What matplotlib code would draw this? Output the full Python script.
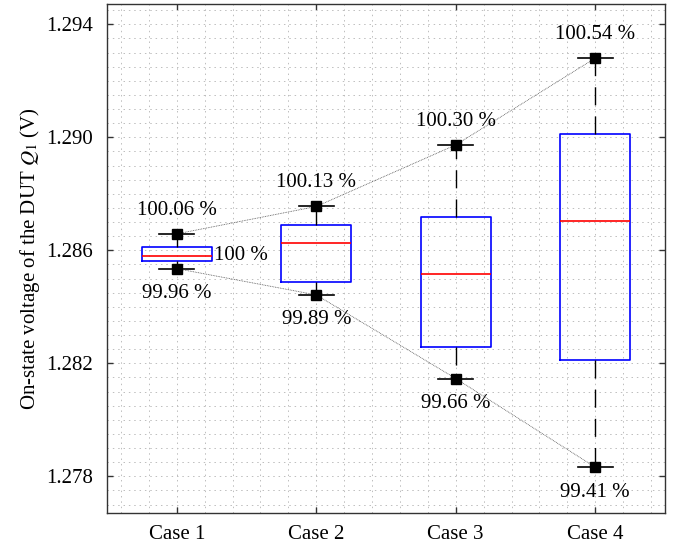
import matplotlib
matplotlib.use("Agg")
from matplotlib import pyplot as plt
from matplotlib.ticker import MultipleLocator

plt.rcParams['font.family'] = ['Liberation Serif', 'DejaVu Serif']
plt.rcParams['mathtext.fontset'] = 'stix'

cases = ['Case 1', 'Case 2', 'Case 3', 'Case 4']
v_max = [1.28658, 1.28755, 1.28973, 1.29280]
v_q3 = [1.28612, 1.28688, 1.28718, 1.29013]
v_med = [1.28580, 1.28625, 1.28517, 1.28704]
v_q1 = [1.28563, 1.28488, 1.28259, 1.28210]
v_min = [1.28535, 1.28442, 1.28146, 1.27832]
max_labels = ['100.06 %', '100.13 %', '100.30 %', '100.54 %']
min_labels = ['99.96 %', '99.89 %', '99.66 %', '99.41 %']
ref_label = '100 %'

pos = [1, 2, 3, 4]
stats = []
for i in range(4):
    stats.append(dict(whislo=v_min[i], q1=v_q1[i], med=v_med[i], q3=v_q3[i],
                      whishi=v_max[i], fliers=[], label=cases[i]))

fig = plt.figure(figsize=(6.83, 5.48), dpi=100)
ax = fig.add_axes([0.1567, 0.0639, 0.9736 - 0.1567, 0.9918 - 0.0639])

ax.bxp(stats, positions=pos, widths=0.5, showfliers=False,
       boxprops=dict(color='#0000ff', linewidth=1.2),
       medianprops=dict(color='#ff0000', linewidth=1.2),
       whiskerprops=dict(color='black', linewidth=1.0, linestyle=(0, (13, 8))),
       capprops=dict(color='black', linewidth=1.2), capwidths=0.25)

# dotted trend lines through max / min
ax.plot(pos, v_max, linestyle=(0, (1, 1)), color='#555555', linewidth=0.6)
ax.plot(pos, v_min, linestyle=(0, (1, 1)), color='#555555', linewidth=0.6)
ax.plot(pos, v_max, 's', color='black', markersize=6.5, linestyle='none')
ax.plot(pos, v_min, 's', color='black', markersize=6.5, linestyle='none')

for i in range(4):
    ax.annotate(max_labels[i], (pos[i], v_max[i]), xytext=(0, 17),
                textcoords='offset points', ha='center', va='center', fontsize=15)
    ax.annotate(min_labels[i], (pos[i], v_min[i]), xytext=(0, -18),
                textcoords='offset points', ha='center', va='center', fontsize=15)
ax.annotate(ref_label, (pos[0] + 0.25, v_med[0]), xytext=(2, 0),
            textcoords='offset points', ha='left', va='center', fontsize=15)

ax.set_xlim(0.5, 4.5)
ax.set_ylim(1.2767, 1.2947)
ax.set_xticks(pos)
ax.set_xticklabels(cases)
ax.set_yticks([1.278, 1.282, 1.286, 1.290, 1.294])
ax.set_yticklabels(['1.278', '1.282', '1.286', '1.290', '1.294'])
ax.xaxis.set_minor_locator(MultipleLocator(0.2))
ax.yaxis.set_minor_locator(MultipleLocator(0.0005))
ax.grid(True, which='both', color='#bdbdbd', linestyle=(0, (1.5, 4)), linewidth=0.7)
ax.set_axisbelow(True)
ax.tick_params(which='major', direction='in', length=4.5, top=True, right=True,
               labelsize=15, width=1, color='#333333')
ax.tick_params(axis='x', which='major', pad=9)
ax.tick_params(axis='y', which='major', pad=10)
ax.tick_params(which='minor', length=0)
for s in ax.spines.values():
    s.set_color('#333333')
    s.set_linewidth(1.0)

ax.set_ylabel('On-state voltage of the DUT $Q_1$ (V)', fontsize=15, labelpad=3)

fig.savefig('out.png', dpi=100)
